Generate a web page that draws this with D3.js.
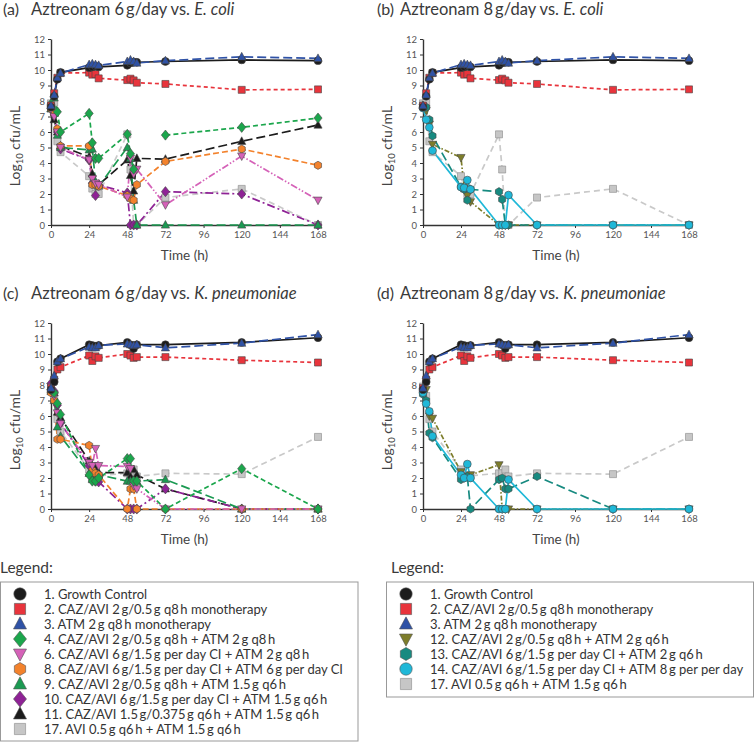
<!DOCTYPE html>
<html><head><meta charset="utf-8">
<script src="https://cdn.jsdelivr.net/npm/d3@7"></script>
<style>body{margin:0;background:#fff} svg{display:block} text{font-family:Lato, "Open Sans", sans-serif}</style>
</head><body><svg id="c" width="754" height="742"></svg>
<script>
// ---------------- DATA ----------------
const times = [0, 2, 4, 6, 24, 26, 28, 30, 48, 50, 52, 54, 72, 120, 168];
const xTicks = [0, 24, 48, 72, 96, 120, 144, 168];
const yTicks = [0,1,2,3,4,5,6,7,8,9,10,11,12];

// E. coli shared arms
const ecoliGC   = [7.6, 8.3, 9.4, 9.85, 10.15, 10.2, 10.25, 10.2, 10.3, 10.45, 10.5, 10.5, 10.55, 10.65, 10.6];
const ecoliCAZ  = [7.7, 8.5, 9.5, 9.8, 9.83, 9.7, 9.74, 9.46, 9.35, 9.44, 9.33, 9.18, 9.1, 8.72, 8.75];
const ecoliATM  = [7.7, 8.4, 9.5, 9.8, 10.35, 10.4, 10.35, 10.3, 10.55, 10.65, 10.55, 10.45, 10.6, 10.85, 10.75];
const ecoliS17  = [7.85, 7.9, 5.4, 4.7, 3.15, 2.35, 2.0, 2.0, 5.85, 3.58, 0, 0, 1.77, 2.33, 0];
// panel (a)
const aS4  = [7.8, 8.3, 7.3, 6.0, 7.2, 5.3, 4.3, 4.3, 5.85, 4.6, 3.6, null, 5.8, 6.3, 6.9];
const aS6  = [7.5, 7.0, 6.0, 5.0, 4.2, 3.0, 2.7, 2.6, 1.8, 4.3, 3.3, 3.6, 1.3, 4.45, 1.6];
const aS8  = [7.5, 7.2, 6.2, 5.1, 5.1, 2.6, 2.6, 2.5, 1.9, 1.7, 1.6, 2.6, 4.1, 4.9, 3.85];
const aS9  = [7.5, 8.2, 5.8, 5.0, 4.85, 4.9, 2.8, 2.5, 5.0, 4.3, 1.6, 0, 0, 0, 0];
const aS10 = [7.5, 7.1, 6.0, 4.9, 4.2, 2.7, 1.9, 2.6, 2.07, 0, 0, 0, 2.15, 2.0, 0];
const aS11 = [7.5, 6.8, 6.0, 5.1, 4.4, 3.3, 2.6, 2.6, 4.2, 3.2, 2.2, 4.3, 4.25, 5.4, 6.45];
// panel (b)
const bS12 = [7.6, 7.4, 6.5, 5.2, 4.35, 2.4, 1.9, 1.5, 0, 0, 0, 0, 0, 0, 0];
const bS13 = [7.7, 7.6, 6.8, 5.75, 2.45, 2.3, 1.6, 2.3, 2.15, 1.65, 0, 0, 0, 0, 0];
const bS14 = [7.55, 6.8, 6.3, 4.8, 2.45, 2.4, 2.9, 2.3, 0, 0, 0, 1.93, 0, 0, 0];
// K. pneumoniae shared arms
const kpGC   = [7.7, 8.2, 9.5, 9.7, 10.6, 10.55, 10.5, 10.55, 10.75, 10.6, 10.35, 10.6, 10.6, 10.75, 11.05];
const kpCAZ  = [7.8, 8.35, 9.0, 9.15, 9.9, 9.55, 9.85, 9.75, 10.0, 9.9, 9.75, 9.8, 9.8, 9.6, 9.45];
const kpATM  = [7.8, 8.6, 9.5, 9.7, 10.45, 10.4, 10.4, 10.55, 10.65, 10.6, 10.55, 10.6, 10.4, 10.7, 11.25];
const kpS17  = [7.9, 7.3, 5.8, 5.0, 2.55, 2.05, 2.1, 2.15, 2.3, 2.3, 2.55, 2.1, 2.3, 2.25, 4.65];
// panel (c)
const cS4  = [7.7, 7.5, 6.8, 6.1, 2.2, 1.8, 1.8, 2.0, 3.25, 3.25, 1.8, 1.8, 0, 2.6, 0];
const cS6  = [7.9, 7.3, 6.2, 5.5, 3.0, 2.8, 3.9, 2.8, 2.75, 2.6, 1.5, 1.3, 0, 0, 0];
const cS8  = [7.5, 7.0, 4.5, 4.5, 4.1, 2.5, 2.3, 2.2, 0, 1.3, 1.3, 0, 0, 0, 0];
const cS9  = [7.6, 7.0, 5.3, 4.7, 2.3, 1.9, 2.0, 2.2, 1.8, 1.8, 1.6, 1.8, 1.9, 0, 0];
const cS10 = [8.1, 7.6, 6.7, 5.55, 2.8, 2.0, 1.8, 1.75, 0, 0, 0, 0, 1.3, 0, 0];
const cS11 = [7.7, 7.5, 6.25, 5.9, 3.1, 2.8, 2.6, 2.35, 2.35, 2.1, 2.55, 2.2, 1.3, 0, 0];
// panel (d)
const dS12 = [7.6, 7.7, 6.0, 5.85, 2.4, 2.1, 2.1, 2.2, 2.85, 0, 0, 0, 0, 0, 0];
const dS13 = [7.4, 7.0, 4.9, 4.6, 1.9, 2.0, 2.1, 0, 1.9, 2.0, 1.3, 1.3, 2.1, 0, 0];
const dS14 = [7.5, 6.8, 6.3, 4.7, 2.2, 2.0, 2.9, 2.0, 0, 0, 0, 1.9, 0, 0, 0];

const legendLeft  = ["s1","s2","s3","s4","s6","s8","s9","s10","s11","s17"];
const legendRight = ["s1","s2","s3","s12","s13","s14","s17"];

// ---------------- STYLES ----------------
const TS = "\u2009";
const ST = {
  s1: {label:"1. Growth Control", color:"#1c1c1c", fill:"#1c1c1c", shape:"circle", dash:null},
  s2: {label:`2. CAZ/AVI 2${TS}g/0.5${TS}g q8${TS}h monotherapy`, color:"#e8343c", fill:"#e8343c", shape:"square", dash:"4,3"},
  s3: {label:`3. ATM 2${TS}g q8${TS}h monotherapy`, color:"#2f52a6", fill:"#2f52a6", shape:"triangle", dash:"9,4"},
  s4: {label:`4. CAZ/AVI 2${TS}g/0.5${TS}g q8${TS}h + ATM 2${TS}g q8${TS}h`, color:"#1ba64c", fill:"#1ba64c", shape:"diamond", dash:"5,3"},
  s6: {label:`6. CAZ/AVI 6${TS}g/1.5${TS}g per day CI + ATM 2${TS}g q8${TS}h`, color:"#d562b8", fill:"#d562b8", shape:"tridown", dash:"7,2,1.5,2,1.5,2"},
  s8: {label:`8. CAZ/AVI 6${TS}g/1.5${TS}g per day CI + ATM 6${TS}g per day CI`, color:"#f3822c", fill:"#f3822c", shape:"hexagon", dash:"6,3"},
  s9: {label:`9. CAZ/AVI 2${TS}g/0.5${TS}g q8${TS}h + ATM 1.5${TS}g q6${TS}h`, color:"#1b9a52", fill:"#1b9a52", shape:"triangle", dash:"9,4"},
  s10:{label:`10. CAZ/AVI 6${TS}g/1.5${TS}g per day CI + ATM 1.5${TS}g q6${TS}h`, color:"#8e2295", fill:"#8e2295", shape:"diamond", dash:"8,3,2,3"},
  s11:{label:`11. CAZ/AVI 1.5${TS}g/0.375${TS}g q6${TS}h + ATM 1.5${TS}g q6${TS}h`, color:"#1c1c1c", fill:"#1c1c1c", shape:"triangle", dash:"9,4"},
  s12:{label:`12. CAZ/AVI 2${TS}g/0.5${TS}g q8${TS}h + ATM 2${TS}g q6${TS}h`, color:"#7d7d2b", fill:"#7d7d2b", shape:"tridown", dash:"5,2,1.5,2"},
  s13:{label:`13. CAZ/AVI 6${TS}g/1.5${TS}g per day CI + ATM 2${TS}g q6${TS}h`, color:"#178a80", fill:"#178a80", shape:"hexagon", dash:"9,4"},
  s14:{label:`14. CAZ/AVI 6${TS}g/1.5${TS}g per day CI + ATM 8${TS}g per per day`, color:"#1fb8d8", fill:"#1fb8d8", shape:"circle", dash:null},
  s17:{label:`17. AVI 0.5${TS}g q6${TS}h + ATM 1.5${TS}g q6${TS}h`, color:"#c9c9c9", fill:"#c6c6c6", shape:"square", dash:"6,4", stroke:"#8a8a8a"}
};

const panels = [
  {tag:"(a)", tx:3,   mx:31,  ty:15,  main:`Aztreonam 6${TS}g/day vs. `, org:"E. coli", x0:51,  x1:318, yTop:39,  yBot:225,
   series:[["s17",ecoliS17],["s11",aS11],["s10",aS10],["s9",aS9],["s8",aS8],["s6",aS6],["s4",aS4],["s2",ecoliCAZ],["s1",ecoliGC],["s3",ecoliATM]]},
  {tag:"(b)", tx:377, mx:400, ty:15,  main:`Aztreonam 8${TS}g/day vs. `, org:"E. coli", x0:423, x1:689, yTop:39,  yBot:225,
   series:[["s17",ecoliS17],["s12",bS12],["s13",bS13],["s14",bS14],["s2",ecoliCAZ],["s1",ecoliGC],["s3",ecoliATM]]},
  {tag:"(c)", tx:3,   mx:31,  ty:299, main:`Aztreonam 6${TS}g/day vs. `, org:"K. pneumoniae", x0:51,  x1:318, yTop:323, yBot:509,
   series:[["s17",kpS17],["s11",cS11],["s10",cS10],["s9",cS9],["s8",cS8],["s6",cS6],["s4",cS4],["s2",kpCAZ],["s1",kpGC],["s3",kpATM]]},
  {tag:"(d)", tx:377, mx:400, ty:299, main:`Aztreonam 8${TS}g/day vs. `, org:"K. pneumoniae", x0:423, x1:689, yTop:323, yBot:509,
   series:[["s17",kpS17],["s12",dS12],["s13",dS13],["s14",dS14],["s2",kpCAZ],["s1",kpGC],["s3",kpATM]]}
];

// ---------------- SHAPES ----------------
function shapePath(shape, r){
  const p = (pts)=> "M"+pts.map(q=>q[0].toFixed(2)+","+q[1].toFixed(2)).join("L")+"Z";
  switch(shape){
    case "circle": return `M${r},0A${r},${r} 0 1,1 ${-r},0A${r},${r} 0 1,1 ${r},0Z`;
    case "square": { const s=r*0.9; return p([[-s,-s],[s,-s],[s,s],[-s,s]]); }
    case "triangle": return p([[0,-r*1.15],[r*1.05,r*0.8],[-r*1.05,r*0.8]]);
    case "tridown": return p([[0,r*1.15],[r*1.05,-r*0.8],[-r*1.05,-r*0.8]]);
    case "diamond": return p([[0,-r*1.3],[r*1.05,0],[0,r*1.3],[-r*1.05,0]]);
    case "hexagon": { const pts=[]; for(let i=0;i<6;i++){const a=Math.PI/3*i - Math.PI/2; pts.push([r*1.05*Math.cos(a), r*1.05*Math.sin(a)]);} return p(pts); }
  }
}

const svg = d3.select("#c");

// ---------------- PANELS ----------------
panels.forEach(P=>{
  const x = d3.scaleLinear().domain([0,168]).range([P.x0,P.x1]);
  const y = d3.scaleLinear().domain([0,12]).range([P.yBot,P.yTop]);
  const g = svg.append("g");

  // title
  g.append("text").attr("x",P.tx).attr("y",P.ty).attr("font-size",16).attr("fill","#3a3a3a").text(P.tag);
  const t = g.append("text").attr("x",P.mx).attr("y",P.ty).attr("font-size",16.5).attr("fill","#3a3a3a");
  t.append("tspan").text(P.main);
  t.append("tspan").attr("font-style","italic").text(P.org);

  // axes
  const ax = g.append("g").attr("transform",`translate(0,${P.yBot})`)
    .call(d3.axisBottom(x).tickValues(xTicks).tickSize(3).tickPadding(3).tickSizeOuter(0));
  const ay = g.append("g").attr("transform",`translate(${P.x0},0)`)
    .call(d3.axisLeft(y).tickValues(yTicks).tickSize(3).tickPadding(3).tickSizeOuter(0));
  [ax,ay].forEach(a=>{
    a.select(".domain").attr("stroke","#333").attr("stroke-width",1.4);
    a.selectAll(".tick line").attr("stroke","#333");
    a.selectAll(".tick text").attr("font-size",9.5).attr("fill","#555").attr("font-family","Lato, sans-serif");
  });

  g.append("text").attr("x",(P.x0+P.x1)/2).attr("y",P.yBot+35).attr("text-anchor","middle")
    .attr("font-size",13.5).attr("fill","#444").text("Time (h)");
  const yl = g.append("text").attr("transform",`translate(${P.x0-31},${(P.yTop+P.yBot)/2+14}) rotate(-90)`)
    .attr("text-anchor","middle").attr("font-size",14).attr("fill","#444");
  yl.append("tspan").text("Log");
  yl.append("tspan").attr("font-size",9.5).attr("dy",3).text("10");
  yl.append("tspan").attr("dy",-3).text(" cfu/mL");

  const line = d3.line().defined(d=>d.v!=null).x(d=>x(d.t)).y(d=>y(d.v));
  const toPts = arr => times.map((tt,i)=>({t:tt, v:arr[i]}));

  // lines
  P.series.forEach(([k,arr])=>{
    const s = ST[k];
    g.append("path").datum(toPts(arr)).attr("d",line).attr("fill","none")
      .attr("stroke",s.color).attr("stroke-width",1.7)
      .attr("stroke-dasharray",s.dash);
  });
  // markers
  P.series.forEach(([k,arr])=>{
    const s = ST[k];
    g.append("g").selectAll("path").data(toPts(arr).filter(d=>d.v!=null)).join("path")
      .attr("transform",d=>`translate(${x(d.t)},${y(d.v)})`)
      .attr("d",shapePath(s.shape,3.9))
      .attr("fill",s.fill).attr("stroke",s.stroke||"#444").attr("stroke-width",0.6);
  });
});

// ---------------- LEGENDS ----------------
function legend(keys, bx, by, bw, bh, mx, tx, lx){
  svg.append("text").attr("x",lx).attr("y",by-9).attr("font-size",15.5).attr("fill","#3a3a3a").text("Legend:");
  svg.append("rect").attr("x",bx).attr("y",by).attr("width",bw).attr("height",bh)
    .attr("fill","none").attr("stroke","#999").attr("stroke-width",1);
  keys.forEach((k,i)=>{
    const s = ST[k];
    const cy = by+12+i*15;
    svg.append("path").attr("transform",`translate(${mx},${cy})`).attr("d",shapePath(s.shape,6.2))
      .attr("fill",s.fill).attr("stroke",s.stroke||"#555").attr("stroke-width",0.6);
    svg.append("text").attr("x",tx).attr("y",cy+4.5).attr("font-size",13).attr("fill","#333").text(s.label);
  });
}
legend(legendLeft, 0.5, 582, 357.5, 159, 20, 44, 0);
legend(legendRight, 386.5, 582, 367, 115, 406, 430, 391);
</script></body></html>
